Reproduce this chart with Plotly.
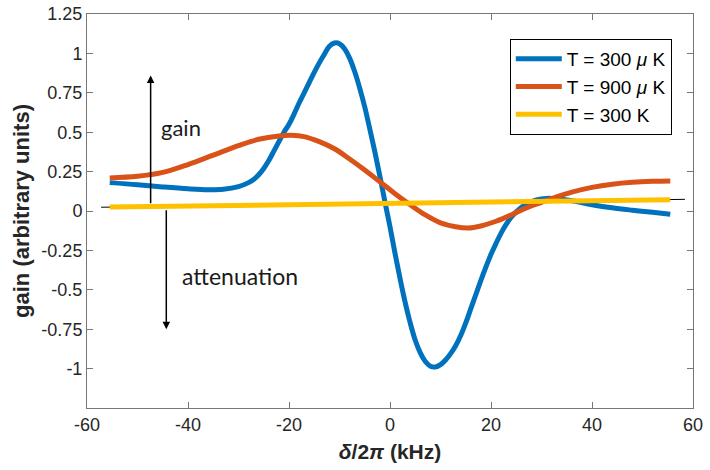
import plotly.graph_objects as go

# ---- data ----
x_300uK = [-55.5, -50, -45, -40, -36, -33, -30, -28, -27, -26, -25, -24, -23, -22, -21, -20,
           -19, -18, -17, -16, -15, -14, -13, -12, -11, -10, -9, -8, -7, -6, -5, -4, -3, -2, -1,
           0, 1, 2, 3, 4, 5, 6, 7, 8, 9, 10, 11, 12, 13, 14, 15, 16, 17, 18, 19, 20, 21, 22,
           23, 24, 25, 27, 29, 31, 33, 36, 40, 44, 48, 52, 55.5]
y_300uK = [0.18, 0.167, 0.153, 0.141, 0.135, 0.138, 0.155, 0.18, 0.20, 0.23, 0.27, 0.32, 0.38,
           0.44, 0.50, 0.55, 0.615, 0.685, 0.75, 0.815, 0.88, 0.94, 0.995, 1.045, 1.066, 1.062,
           1.03, 0.97, 0.885, 0.78, 0.66, 0.52, 0.375, 0.22, 0.057, -0.10, -0.27, -0.43, -0.58,
           -0.71, -0.82, -0.90, -0.955, -0.985, -0.99, -0.975, -0.945, -0.905, -0.855, -0.79,
           -0.71, -0.62, -0.53, -0.44, -0.355, -0.275, -0.205, -0.14, -0.085, -0.04, -0.005,
           0.045, 0.07, 0.08, 0.078, 0.065, 0.04, 0.02, 0.005, -0.008, -0.02]

x_900uK = [-55.5, -50, -45, -40, -35, -30, -26, -22, -19.5, -17, -14, -11, -8, -5, -2, 1, 4, 7,
           10, 13, 15.5, 18, 21, 24, 27, 30, 33, 36, 40, 44, 48, 52, 55.5]
y_900uK = [0.21, 0.22, 0.245, 0.295, 0.355, 0.415, 0.455, 0.476, 0.48, 0.472, 0.44, 0.395, 0.33,
           0.26, 0.185, 0.11, 0.04, -0.025, -0.075, -0.10, -0.108, -0.095, -0.065, -0.025, 0.02,
           0.055, 0.09, 0.12, 0.15, 0.17, 0.182, 0.188, 0.19]

x_300K = [-55.5, 55.5]
y_300K = [0.025, 0.072]

x_ref = [-57.2, 58.4]
y_ref = [0.024, 0.074]

names = ["T = 300 <i>μ</i> K", "T = 900 <i>μ</i> K", "T = 300 K"]
colors = ["#0072BD", "#D95319", "#FFC000"]

x_ticks = [-60, -40, -20, 0, 20, 40, 60]
x_ticktext = ["-60", "-40", "-20", "0", "20", "40", "60"]
y_ticks = [-1, -0.75, -0.5, -0.25, 0, 0.25, 0.5, 0.75, 1, 1.25]
y_ticktext = ["-1", "-0.75", "-0.5", "-0.25", "0", "0.25", "0.5", "0.75", "1", "1.25"]

FONT = "Arial, 'Liberation Sans', sans-serif"

fig = go.Figure()
fig.add_trace(go.Scatter(x=x_ref, y=y_ref, mode="lines", line=dict(color="black", width=1),
                         showlegend=False, hoverinfo="skip"))
for xs, ys, nm, c in [(x_300uK, y_300uK, names[0], colors[0]),
                      (x_900uK, y_900uK, names[1], colors[1]),
                      (x_300K, y_300K, names[2], colors[2])]:
    fig.add_trace(go.Scatter(x=xs, y=ys, mode="lines", name=nm,
                             line=dict(color=c, width=5, shape="spline", smoothing=1.0)))

axis_common = dict(showline=True, linecolor="#777777", linewidth=1, mirror="ticks",
                   ticks="inside", ticklen=6, tickcolor="#777777", showgrid=False,
                   zeroline=False, automargin=False,
                   tickfont=dict(family=FONT, size=18, color="#262626"))

fig.update_xaxes(range=[-60, 60], tickvals=x_ticks, ticktext=x_ticktext,
                 title=dict(text="<b><i>δ</i>/2<i>π</i> (kHz)</b>",
                            font=dict(family=FONT, size=21, color="#262626"), standoff=10),
                 **axis_common)
fig.update_yaxes(range=[-1.25, 1.25], tickvals=y_ticks, ticktext=y_ticktext,
                 title=dict(text="<b>gain (arbitrary units)</b>",
                            font=dict(family=FONT, size=22, color="#262626"), standoff=5),
                 **axis_common)

# arrows and labels
fig.add_annotation(x=-47.4, y=0.86, ax=-47.4, ay=0.04, xref="x", yref="y", axref="x", ayref="y",
                   showarrow=True, arrowhead=2, arrowsize=1, arrowwidth=1.5, arrowcolor="black",
                   text="")
fig.add_annotation(x=-44.3, y=-0.75, ax=-44.3, ay=0.015, xref="x", yref="y", axref="x", ayref="y",
                   showarrow=True, arrowhead=2, arrowsize=1, arrowwidth=1.5, arrowcolor="black",
                   text="")
fig.add_annotation(x=-45.8, y=0.53, xref="x", yref="y", text="gain", showarrow=False,
                   xanchor="left", yanchor="middle",
                   font=dict(family="Lato, 'Open Sans', sans-serif", size=22, color="#1a1a1a"))
fig.add_annotation(x=-41.6, y=-0.415, xref="x", yref="y", text="attenuation", showarrow=False,
                   xanchor="left", yanchor="middle",
                   font=dict(family="Lato, 'Open Sans', sans-serif", size=23, color="#1a1a1a"))

fig.update_layout(
    width=710, height=470,
    margin=dict(l=87, r=17, t=14, b=62),
    plot_bgcolor="white", paper_bgcolor="white",
    font=dict(family=FONT, color="#262626"),
    legend=dict(x=0.965, y=0.9365, xanchor="right", yanchor="top",
                bgcolor="white", bordercolor="black", borderwidth=1,
                font=dict(family=FONT, size=19, color="black"),
                tracegroupgap=0, itemwidth=46),
)

# remove the page's default body margin so the figure fills the 710x470 window
fig.write_html("out.html", config={"displayModeBar": False},
               post_script="document.body.style.margin='0';document.body.style.overflow='hidden';")
